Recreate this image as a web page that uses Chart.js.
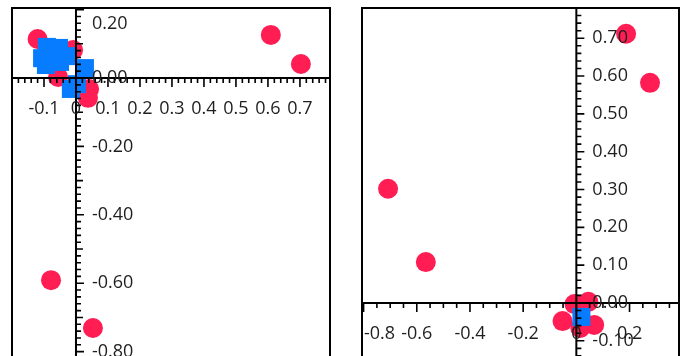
<!DOCTYPE html>
<html>
<head>
<meta charset="utf-8">
<script src="https://cdn.jsdelivr.net/npm/chart.js@4/dist/chart.umd.min.js"></script>
<style>
  html, body { margin: 0; padding: 0; background: #fff; width: 686px; height: 356px; overflow: hidden; }
  .panel { position: absolute; top: 0; width: 343px; height: 380px; }
  #leftPanel { left: 0; }
  #rightPanel { left: 343px; }
</style>
</head>
<body>
<div class="panel" id="leftPanel"><canvas id="leftChart"></canvas></div>
<div class="panel" id="rightPanel"><canvas id="rightChart"></canvas></div>
<script>
// Left plot: scores
const leftRedX  = [-0.120, 0.609, 0.703, -0.009, -0.056, 0.041, 0.0375, -0.078, 0.053];
const leftRedY  = [ 0.114, 0.126, 0.041,  0.082,  0.003, -0.032, -0.058, -0.591, -0.731];
const leftBlueX = [-0.091, -0.053, -0.106, -0.094, -0.050, -0.028, 0.028, -0.016, 0.003];
const leftBlueY = [ 0.091,  0.088,  0.058,  0.038,  0.047,  0.064, 0.029, -0.032, -0.018];

// Right plot: loadings
const rightRedX  = [0.187, 0.277, -0.708, -0.566, -0.007, 0.045, -0.052, 0.067, 0.015];
const rightRedY  = [0.712, 0.582,  0.302,  0.108, -0.003, 0.003, -0.048, -0.058, -0.066];
const rightBlueX = [0.019];
const rightBlueY = [-0.037];

// Tick labels
const leftXTicks  = ['-0.1', '0', '0.1', '0.2', '0.3', '0.4', '0.5', '0.6', '0.7'];
const leftYTicks  = ['0.20', '0.00', '-0.20', '-0.40', '-0.60', '-0.80'];
const rightXTicks = ['-0.8', '-0.6', '-0.4', '-0.2', '0', '0.2'];
const rightYTicks = ['0.70', '0.60', '0.50', '0.40', '0.30', '0.20', '0.10', '0.00', '-0.10'];

const RED = '#ff1d53';
const BLUE = '#087cff';
const INK = '#1f1f1f';
const FONT = '18px "Open Sans", "Noto Sans", sans-serif';

function points(xs, ys) {
  return xs.map((v, i) => ({ x: v, y: ys[i] }));
}

function onGrid(v, step) {
  const q = v / step;
  return Math.abs(q - Math.round(q)) < 1e-6;
}

function stepsIn(min, max, step) {
  const out = [];
  const a = Math.ceil(min / step - 1e-9), b = Math.floor(max / step + 1e-9);
  for (let i = a; i <= b; i++) out.push(i * step);
  return out;
}

// Frame plus a pair of axes crossing at the origin, drawn on top of the markers
const crossAxes = {
  id: 'crossAxes',
  afterDatasetsDraw(chart, args, o) {
    const { ctx, chartArea: a, scales: { x, y } } = chart;
    const x0 = x.getPixelForValue(0), y0 = y.getPixelForValue(0);
    ctx.save();
    ctx.strokeStyle = '#000';
    ctx.lineWidth = 2;
    ctx.strokeRect(a.left, a.top, a.right - a.left, a.bottom - a.top);
    ctx.beginPath();
    ctx.moveTo(a.left, y0); ctx.lineTo(a.right, y0);
    ctx.moveTo(x0, a.top); ctx.lineTo(x0, a.bottom);
    ctx.stroke();

    const xLabelVals = o.xLabels.map(Number);
    const yLabelVals = o.yLabels.map(Number);
    const xLabelStep = Math.abs(xLabelVals[1] - xLabelVals[0]);
    const yLabelStep = Math.abs(yLabelVals[1] - yLabelVals[0]);

    // tick marks
    ctx.lineWidth = 1.6;
    ctx.beginPath();
    stepsIn(x.min, x.max, o.xMinor).forEach(v => {
      const px = x.getPixelForValue(v);
      if (px < a.left + 1 || px > a.right - 1) return;
      let len = 5;
      if (onGrid(v, xLabelStep)) len = 9;
      else if (o.xMid && onGrid(v, o.xMid)) len = 7;
      ctx.moveTo(px, y0); ctx.lineTo(px, y0 + len);
    });
    stepsIn(y.min, y.max, o.yMinor).forEach(v => {
      const py = y.getPixelForValue(v);
      if (py < a.top + 1 || py > a.bottom - 1) return;
      let len = 5;
      if (onGrid(v, yLabelStep)) len = 8;
      else if (o.yMid && onGrid(v, o.yMid)) len = 7;
      ctx.moveTo(x0, py); ctx.lineTo(x0 + len, py);
    });
    ctx.stroke();

    // tick labels
    ctx.fillStyle = INK;
    ctx.font = FONT;
    ctx.textBaseline = 'middle';
    ctx.textAlign = 'center';
    o.xLabels.forEach((t, i) => {
      const w = ctx.measureText(t).width;
      let px = x.getPixelForValue(xLabelVals[i]);
      px = Math.max(px, a.left + w / 2 + 2);
      ctx.fillText(t, px, y0 + 31);
    });
    ctx.textAlign = 'left';
    o.yLabels.forEach((t, i) => {
      let py = y.getPixelForValue(yLabelVals[i]);
      py = Math.max(py, a.top + 16);
      ctx.fillText(t, x0 + 16, py);
    });
    ctx.restore();
  }
};

function makeChart(id, redPts, bluePts, xr, yr, pad, axes) {
  return new Chart(document.getElementById(id), {
    type: 'scatter',
    data: {
      datasets: [
        // squares sit above the circles
        { data: bluePts, order: 0, pointStyle: 'rect', pointRadius: 12.73, backgroundColor: BLUE, borderColor: BLUE, borderWidth: 0 },
        { data: redPts, order: 1, pointStyle: 'circle', pointRadius: 10, backgroundColor: RED, borderColor: RED, borderWidth: 0 }
      ]
    },
    options: {
      responsive: true,
      maintainAspectRatio: false,
      animation: false,
      events: [],
      layout: { padding: pad, autoPadding: false },
      scales: {
        x: { type: 'linear', min: xr[0], max: xr[1], display: false },
        y: { type: 'linear', min: yr[0], max: yr[1], display: false }
      },
      plugins: {
        legend: { display: false },
        tooltip: { enabled: false },
        crossAxes: axes
      }
    },
    plugins: [crossAxes]
  });
}

makeChart('leftChart',
  points(leftRedX, leftRedY), points(leftBlueX, leftBlueY),
  [-0.2, 0.794], [-0.842, 0.2047],
  { left: 12, right: 13, top: 8, bottom: 14 },
  { xLabels: leftXTicks, yLabels: leftYTicks, xMinor: 0.02, yMinor: 0.02, yMid: 0.1 });

makeChart('rightChart',
  points(rightRedX, rightRedY), points(rightBlueX, rightBlueY),
  [-0.806, 0.386], [-0.1667, 0.780],
  { left: 19, right: 7, top: 8, bottom: 14 },
  { xLabels: rightXTicks, yLabels: rightYTicks, xMinor: 0.05, yMinor: 0.02 });
</script>
</body>
</html>
